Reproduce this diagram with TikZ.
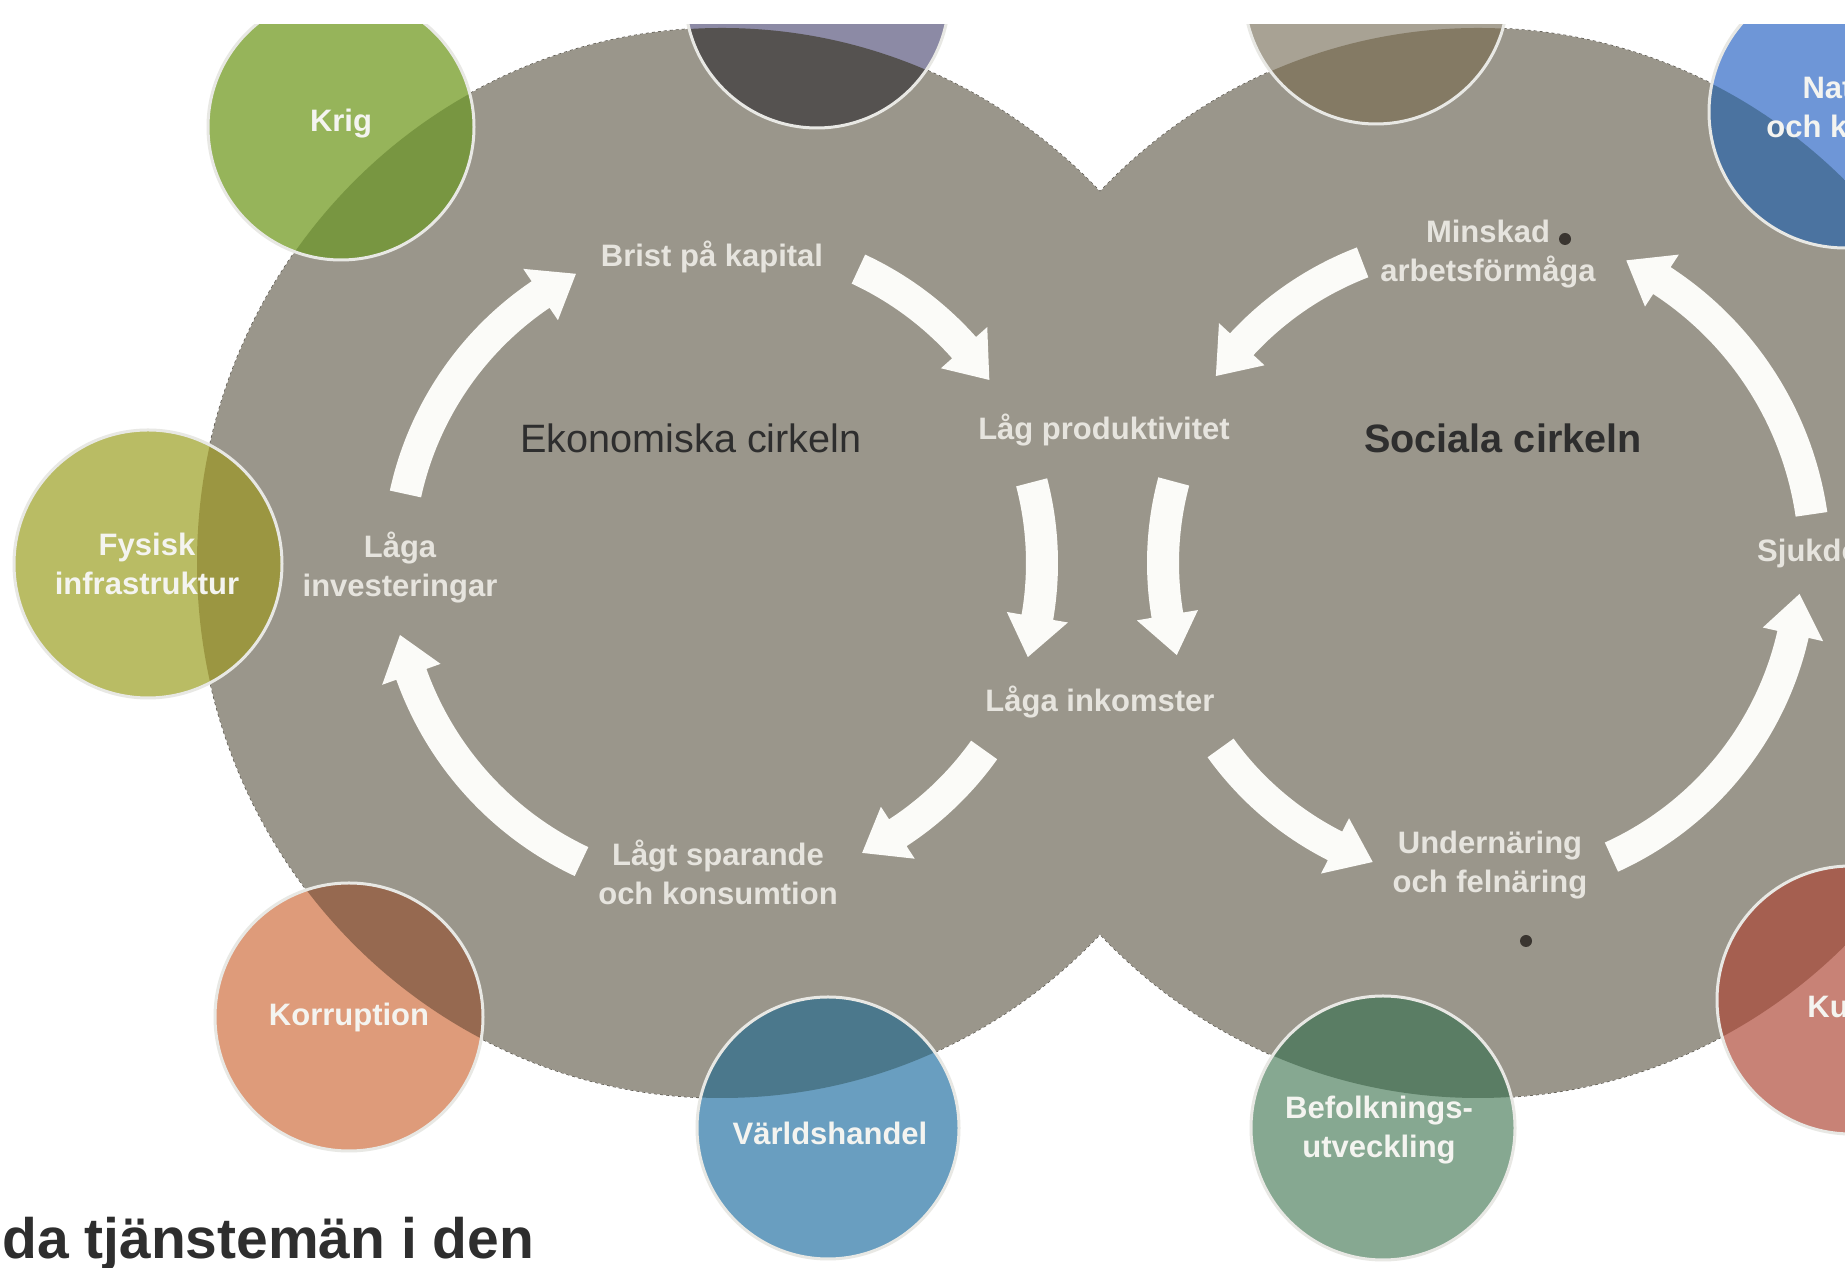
\documentclass[tikz,border=0pt]{standalone}
\usepackage{fontspec}
\setmainfont{Liberation Sans}
\usetikzlibrary{calc}
\definecolor{bg}{HTML}{9A968B}
\definecolor{rimc}{HTML}{55524A}
\definecolor{ringc}{HTML}{E8E8E4}
\definecolor{labc}{HTML}{E6E4DE}
\definecolor{flabc}{HTML}{F4F4F0}
\definecolor{headc}{HTML}{2E2E2E}
\definecolor{arrowc}{HTML}{FBFBF8}
\definecolor{dustc}{HTML}{3A3530}
\definecolor{krigA}{HTML}{96B45A}\definecolor{krigB}{HTML}{789641}
\definecolor{tdA}{HTML}{8C8AA5}\definecolor{tdB}{HTML}{555250}
\definecolor{tbA}{HTML}{A8A294}\definecolor{tbB}{HTML}{847A64}
\definecolor{natA}{HTML}{6E96D7}\definecolor{natB}{HTML}{4B73A0}
\definecolor{fysA}{HTML}{B9BC64}\definecolor{fysB}{HTML}{9B9641}
\definecolor{korA}{HTML}{DE9B7A}\definecolor{korB}{HTML}{966950}
\definecolor{varA}{HTML}{699EC0}\definecolor{varB}{HTML}{4B788C}
\definecolor{befA}{HTML}{86A891}\definecolor{befB}{HTML}{5A7D64}
\definecolor{kulA}{HTML}{C88276}\definecolor{kulB}{HTML}{A55F50}

% colored factor circle: name, x, y, r, base colour, colour over grey
\newcommand\factorcircle[6]{%
  \coordinate (#1) at (#2,#3);
  \fill[#5] (#1) circle[radius=#4];
  \begin{scope}
    \clip (ec) ellipse[x radius=525,y radius=535] (sc) ellipse[x radius=525,y radius=535];
    \fill[#6] (#1) circle[radius=#4];
  \end{scope}
  \draw[ring] (#1) circle[radius=#4];
}
% block arrow along an arc: centre, radius, start angle, end angle
\newcommand\arcarrow[4]{%
  \pgfmathsetmacro\aS{#3}%
  \pgfmathsetmacro\aE{#4}%
  \pgfmathsetmacro\dA{sign(#4-#3)*41/#2*180/3.14159}%
  \pgfmathsetmacro\aB{#4-\dA}%
  \pgfmathsetmacro\rO{#2+16}\pgfmathsetmacro\rI{#2-16}%
  \pgfmathsetmacro\hO{#2+31}\pgfmathsetmacro\hI{#2-31}%
  \fill[arrowfill] ($(#1)+(\aS:\rO)$) arc[start angle=\aS, end angle=\aB, radius=\rO]
    -- ($(#1)+(\aB:\hO)$) -- ($(#1)+(\aE:#2)$) -- ($(#1)+(\aB:\hI)$)
    -- ($(#1)+(\aB:\rI)$) arc[start angle=\aB, end angle=\aS, radius=\rI] -- cycle;
}

\begin{document}
\begin{tikzpicture}[x=1pt,y=1pt,
  ring/.style={draw=ringc, line width=3pt},
  rim/.style={draw=rimc, line width=1.2pt, dash pattern=on 3pt off 3pt},
  lab/.style={text=labc, font=\fontsize{31}{39}\selectfont\bfseries, align=center, inner sep=0pt},
  flab/.style={lab, text=flabc},
  head/.style={text=headc, inner sep=0pt},
  arrowfill/.style={fill=arrowc}]
\useasboundingbox (0,0) rectangle (1845,1268);
\clip (0,0) rectangle (1845,1268);
\fill[white] (0,0) rectangle (1845,1268);

% the two grey circles
\coordinate (ec) at (722,705);
\coordinate (sc) at (1478,705);
\draw[rim] (ec) ellipse[x radius=525,y radius=535];
\draw[rim] (sc) ellipse[x radius=525,y radius=535];
\fill[bg] (ec) ellipse[x radius=525,y radius=535];
\fill[bg] (sc) ellipse[x radius=525,y radius=535];

% factor circles
\factorcircle{krig}{341}{1141}{133}{krigA}{krigB}
\factorcircle{topdark}{817}{1272}{132}{tdA}{tdB}
\factorcircle{topbrown}{1376}{1276}{132}{tbA}{tbB}
\factorcircle{natur}{1845}{1156}{136}{natA}{natB}
\factorcircle{fysisk}{148}{704}{134}{fysA}{fysB}
\factorcircle{korr}{349}{251}{134}{korA}{korB}
\factorcircle{varld}{828}{140}{131}{varA}{varB}
\factorcircle{befolk}{1383}{140}{132}{befA}{befB}
\factorcircle{kultur}{1851}{268}{134}{kulA}{kulB}

% economic circle arrows
\arcarrow{ec}{324}{167.7}{116.8}
\arcarrow{ec}{324}{65.1}{34.4}
\arcarrow{ec}{320}{14.6}{-17.1}
\arcarrow{ec}{322}{-35.5}{-64.2}
\arcarrow{ec}{330}{244.8}{192.6}
% social circle arrows
\arcarrow{sc}{322}{111}{144.5}
\arcarrow{sc}{315}{165}{197}
\arcarrow{sc}{317}{215.7}{250.6}
\arcarrow{sc}{323}{294.4}{354.5}
\arcarrow{sc}{337}{8.3}{63.9}

% dust specks
\fill[dustc] (1565,1029) circle[radius=6];
\fill[dustc] (1526,327) circle[radius=6];

% labels
\node[flab] (krig-l) at (341,1144) {Krig};
\node[flab] (fysisk-l) at (147,704) {Fysisk\\infrastruktur};
\node[flab] (korr-l) at (349,251) {Korruption};
\node[flab] (varld-l) at (830,135) {Världshandel};
\node[flab] (befolk-l) at (1379,138) {Befolknings-\\utveckling};
\node[flab] (natur-l) at (1843,1160) {Natur\\och klimat};
\node[flab] (kultur-l) at (1853,262) {Kultur};

\node[lab] (brist) at (712,1011) {Brist på kapital};
\node[lab] (prod) at (1104,838) {Låg produktivitet};
\node[lab] (ink) at (1100,566) {Låga inkomster};
\node[lab] (spar) at (718,396) {Lågt sparande\\och konsumtion};
\node[lab] (inv) at (400,700) {Låga\\investeringar};
\node[lab] (minsk) at (1488,1014) {Minskad\\arbetsförmåga};
\node[lab] (under) at (1490,403) {Undernäring\\och felnäring};
\node[lab, anchor=west] (sjuk) at (1757,715) {Sjukdomar};

\node[head, font=\fontsize{39.6}{46}\selectfont] (ekon) at (691,830) {Ekonomiska cirkeln};
\node[head, font=\fontsize{39.6}{46}\selectfont\bfseries] (soc) at (1503,830) {Sociala cirkeln};

% white band at the top
\fill[white] (0,1244) rectangle (1845,1268);

\node[head, anchor=base west, font=\fontsize{57}{62}\selectfont\bfseries] (bottom) at (2,9) {da tjänstemän i den};
\end{tikzpicture}
\end{document}
